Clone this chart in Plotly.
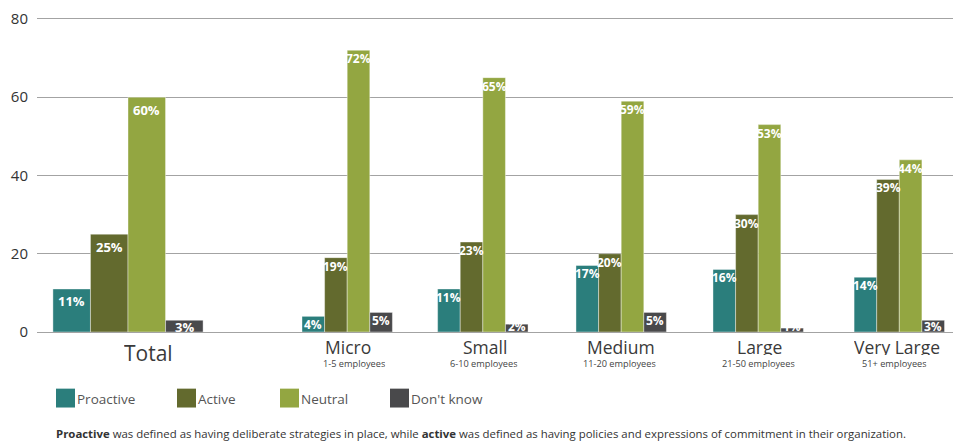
import plotly.graph_objects as go

# ---------------- data ----------------
categories = ["Total", "Micro", "Small", "Medium", "Large", "Very Large"]
subtitles = ["", "1-5 employees", "6-10 employees", "11-20 employees", "21-50 employees", "51+ employees"]
series_names = ["Proactive", "Active", "Neutral", "Don't know"]
proactive = [11, 4, 11, 17, 16, 14]
active = [25, 19, 23, 20, 30, 39]
neutral = [60, 72, 65, 59, 53, 44]
dont_know = [3, 5, 2, 5, 1, 3]
y_ticks = [0, 20, 40, 60, 80]

# ---------------- layout / style ----------------
OFF = 8                      # page body margin in the browser
W, H = 961 - OFF, 441 - OFF  # figure size so that it ends at the window edge
ML, MR, MT, MB = 37 - OFF, 0, 15 - OFF, 109
PW, PH = W - ML - MR, H - MT - MB
Y_MAX = 80.5
group_pos = [0, 1.6, 2.59, 3.6, 4.6, 5.63]
bar_w = [0.274, 0.165, 0.165, 0.165, 0.165, 0.165]
label_pos = [0.153, 1.606, 2.609, 3.598, 4.613, 5.613]
sub_pos = [0.153, 1.653, 2.602, 3.591, 4.602, 5.595]
colors = ["#2b7e7c", "#636a2e", "#93a641", "#49494b"]
FONT = "Open Sans, Lato, sans-serif"

def px_x(px):   # screen pixel -> paper x
    return (px - OFF - ML) / PW

def px_y(py):   # screen pixel -> paper y
    return (H - MB - (py - OFF)) / PH

values = [proactive, active, neutral, dont_know]

fig = go.Figure()
annotations = []
for i, (name, vals, col) in enumerate(zip(series_names, values, colors)):
    xs = [g + (i - 1.5) * w for g, w in zip(group_pos, bar_w)]
    fig.add_trace(go.Bar(
        x=xs, y=vals, width=bar_w, name=name,
        marker=dict(color=col, line=dict(color="rgba(255,255,255,0.4)", width=1)),
        hoverinfo="skip",
    ))
    for k, (x, v) in enumerate(zip(xs, vals)):
        big = k == 0
        off = 12.5 if big else 8.5
        bar_px = v * PH / Y_MAX
        shift = -min(off, bar_px - 5.5)   # keep small labels just above the baseline
        annotations.append(dict(
            x=x, y=v, xref="x", yref="y", text=f"<b>{v}%</b>", showarrow=False,
            yanchor="middle", xanchor="center", yshift=shift,
            font=dict(family=FONT, size=13 if big else 12, color="white"),
        ))

# category labels
for k, (cat, sub, lx, sx) in enumerate(zip(categories, subtitles, label_pos, sub_pos)):
    if k == 0:
        annotations.append(dict(x=lx, y=0, xref="x", yref="y", text=cat, showarrow=False,
                                yanchor="middle", yshift=-21, height=22,
                                font=dict(family=FONT, size=21, color="#3a3a3a")))
    else:
        annotations.append(dict(x=lx, y=0, xref="x", yref="y", text=cat, showarrow=False,
                                yanchor="middle", yshift=-14.5, height=17,
                                font=dict(family=FONT, size=17.5, color="#3a3a3a")))
        annotations.append(dict(x=sx, y=0, xref="x", yref="y", text=sub, showarrow=False,
                                yanchor="middle", yshift=-31, height=11,
                                font=dict(family=FONT, size=9.2, color="#444444")))

# custom legend
shapes = []
legend_px = [56, 177, 280, 390]
for name, col, lx in zip(series_names, colors, legend_px):
    shapes.append(dict(type="rect", xref="paper", yref="paper",
                       x0=px_x(lx), x1=px_x(lx + 19), y0=px_y(408), y1=px_y(389),
                       fillcolor=col, line=dict(width=0)))
    annotations.append(dict(x=px_x(lx + 19), y=px_y(399), xref="paper", yref="paper",
                            text=name, showarrow=False, xanchor="left", yanchor="middle",
                            font=dict(family=FONT, size=13.5, color="#555555")))

annotations.append(dict(
    x=px_x(54), y=px_y(434), xref="paper", yref="paper", showarrow=False,
    xanchor="left", yanchor="middle",
    text="<b>Proactive</b> was defined as having deliberate strategies in place, while "
         "<b>active</b> was defined as having policies and expressions of commitment in their organization.",
    font=dict(family=FONT, size=11.4, color="#333333"),
))

fig.update_layout(
    width=W, height=H, margin=dict(l=ML, r=MR, t=MT, b=MB),
    paper_bgcolor="white", plot_bgcolor="white",
    barmode="overlay", showlegend=False,
    annotations=annotations, shapes=shapes,
    xaxis=dict(range=[(37 - 128) / 137, (961 - 128) / 137], showticklabels=False,
               showgrid=False, zeroline=False, fixedrange=True),
    yaxis=dict(range=[0, Y_MAX], tickvals=y_ticks, showgrid=True, gridcolor="#a3a3a3",
               gridwidth=1.4, zeroline=True, zerolinecolor="#a3a3a3", zerolinewidth=1.4,
               ticks="", ticklabelstandoff=8, ticklabeloverflow="allow",
               tickfont=dict(family=FONT, size=15, color="#333333"), fixedrange=True),
)

fig.write_html("out.html")
